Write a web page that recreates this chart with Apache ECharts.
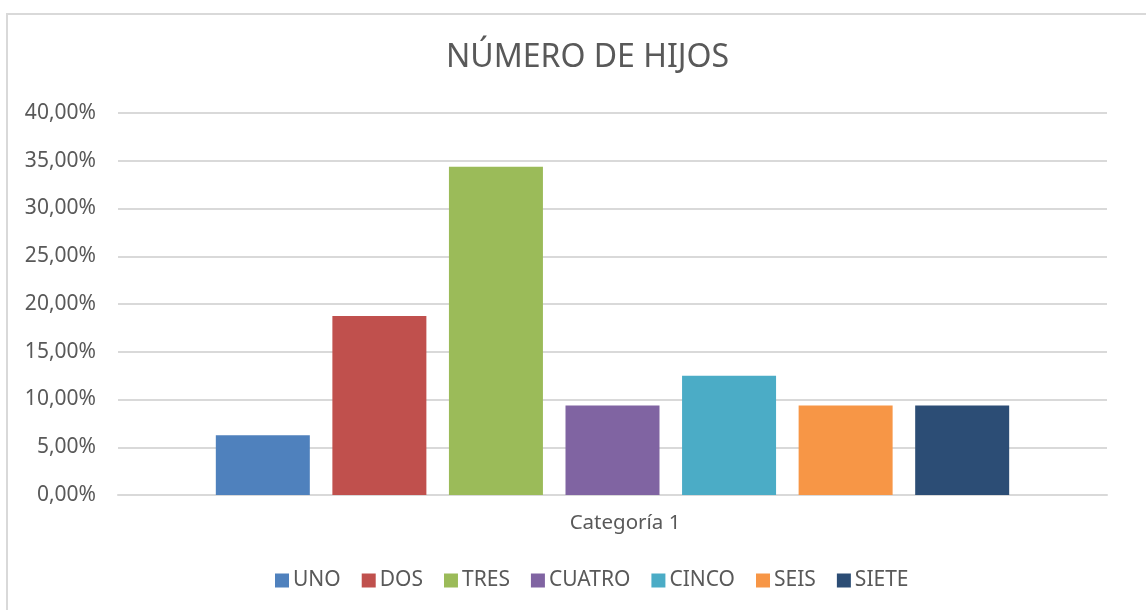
<!DOCTYPE html>
<html>
<head>
<meta charset="UTF-8">
<title>Número de hijos</title>
<script src="https://cdn.jsdelivr.net/npm/echarts@6/dist/echarts.min.js"></script>
<style>
html,body{margin:0;padding:0;background:#fff;}
#frame{position:absolute;left:6px;top:13px;width:1140px;height:597px;border-left:2px solid #d9d9d9;border-top:2px solid #d9d9d9;}
#chart{position:absolute;left:0;top:0;width:1146px;height:610px;}
</style>
</head>
<body>
<div id="frame"></div>
<div id="chart"></div>
<script>
// datos (porcentaje)
var categorias = ['Categoría 1'];
var series = ['UNO', 'DOS', 'TRES', 'CUATRO', 'CINCO', 'SEIS', 'SIETE'];
var valores = [6.25, 18.75, 34.38, 9.38, 12.5, 9.38, 9.38];
var colores = ['#4f81bd', '#c0504d', '#9bbb59', '#8064a2', '#4bacc6', '#f79646', '#2c4d75'];
var ticksY = [0, 5, 10, 15, 20, 25, 30, 35, 40];

var fuente = 'Noto Sans';
var myChart = echarts.init(document.getElementById('chart'));

var lista = [];
for (var i = 0; i < series.length; i++) {
    lista.push({
        name: series[i],
        type: 'bar',
        data: [valores[i]],
        barWidth: 94,
        barGap: '24%',
        itemStyle: { color: colores[i] }
    });
}

var option = {
    backgroundColor: 'transparent',
    animation: false,
    title: {
        text: 'NÚMERO DE HIJOS',
        left: 441,
        top: 37,
        textStyle: { fontFamily: fuente, fontSize: 32, fontWeight: 'normal', color: '#595959' }
    },
    legend: {
        data: series,
        bottom: 14,
        left: 270,
        itemWidth: 14,
        itemHeight: 14,
        itemGap: 21,
        icon: 'rect',
        textStyle: { fontFamily: fuente, fontSize: 21, color: '#595959', padding: [0, 0, 0, -1] }
    },
    grid: { left: 118, right: 39, top: 113, bottom: 115, containLabel: false },
    xAxis: {
        type: 'category',
        data: categorias,
        axisLine: { lineStyle: { color: '#d9d9d9', width: 2 } },
        axisTick: { show: false },
        axisLabel: { fontFamily: fuente, fontSize: 20.5, color: '#595959', margin: 18, padding: [0, 0, 0, 25] }
    },
    yAxis: {
        type: 'value',
        min: ticksY[0],
        max: ticksY[ticksY.length - 1],
        interval: 5,
        axisLine: { show: false },
        axisTick: { show: false },
        splitLine: { lineStyle: { color: '#d9d9d9', width: 2 } },
        axisLabel: {
            fontFamily: fuente, fontSize: 21, color: '#595959', margin: 22,
            formatter: function (v) { return v.toFixed(2).replace('.', ',') + '%'; }
        }
    },
    series: lista
};
myChart.setOption(option);
</script>
</body>
</html>
